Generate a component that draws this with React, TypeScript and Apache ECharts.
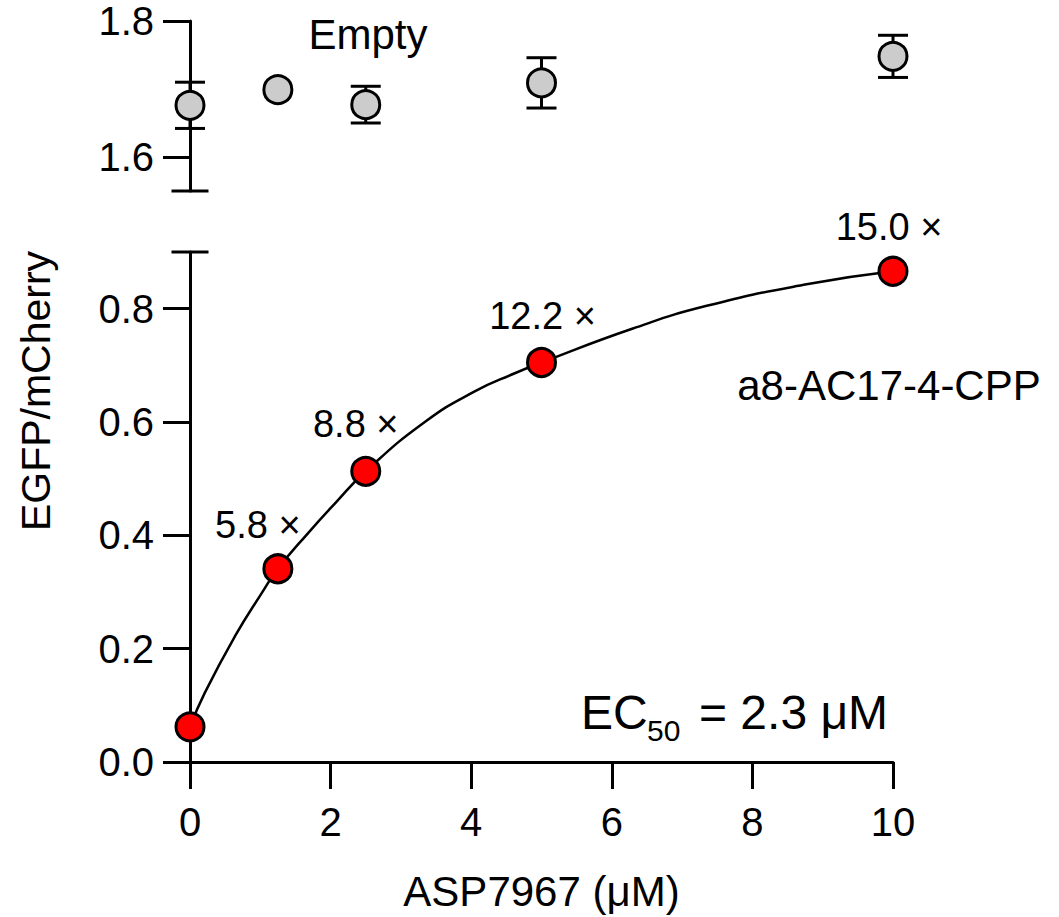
import React, { useEffect, useRef } from "react";
import * as echarts from "echarts";

// ---- data ----
const concentrations = [0, 1.25, 2.5, 5, 10];
const emptyMeans = [1.676, 1.699, 1.677, 1.709, 1.748];
const emptyErrors = [0.034, 0, 0.027, 0.037, 0.031];
const a8Means = [0.062, 0.341, 0.513, 0.705, 0.866];
const foldLabels = ["", "5.8 ×", "8.8 ×", "12.2 ×", "15.0 ×"];
const fitX = [0, 0.21, 0.64, 1.02, 1.25, 1.68, 2.06, 2.5, 3.34, 4.05, 4.62, 5, 6.3, 7.35, 8.77, 10];
const fitY = [0.062, 0.122, 0.222, 0.298, 0.341, 0.404, 0.456, 0.513, 0.6, 0.654, 0.686, 0.705, 0.765, 0.805, 0.843, 0.866];
const topTicks = [1.6, 1.8];
const bottomTicks = [0, 0.2, 0.4, 0.6, 0.8];
const topRange = [1.55, 1.8];
const bottomRange = [0, 0.9];
const xRange = [0, 10];

// ---- styles ----
const FONT = "'Liberation Sans', Arial, Helvetica, sans-serif";
const labelOffsets = [
  [0, 0],
  [-20, 0],
  [-10, -4],
  [1, -3],
  [-4, -1],
];

export default function App() {
  const ref = useRef<HTMLDivElement>(null);

  useEffect(() => {
    document.body.style.margin = "0";
    const chart = echarts.init(ref.current!, null, { renderer: "svg" });

    const lineStyle = { color: "#000", width: 3 };
    const tickLabel = {
      fontSize: 40,
      color: "#000",
      fontFamily: FONT,
    };

    const capSeries = (gridIdx: number, y: number) => ({
      type: "custom",
      xAxisIndex: gridIdx,
      yAxisIndex: gridIdx,
      silent: true,
      z: 1,
      data: [[xRange[0], y]],
      renderItem: (params: any, api: any) => {
        const p = api.coord([api.value(0), api.value(1)]);
        return {
          type: "line",
          shape: { x1: p[0] - 18.5, y1: p[1], x2: p[0] + 18.5, y2: p[1] },
          style: { stroke: "#000", lineWidth: 3 },
        };
      },
    });

    const option: any = {
      animation: false,
      textStyle: { fontFamily: FONT },
      grid: [
        { left: 190, width: 703, top: 21, height: 170 },
        { left: 190, width: 703, top: 252, height: 511 },
      ],
      xAxis: [
        {
          gridIndex: 0,
          type: "value",
          min: xRange[0],
          max: xRange[1],
          show: false,
        },
        {
          gridIndex: 1,
          type: "value",
          min: xRange[0],
          max: xRange[1],
          interval: 2,
          axisLine: { show: true, lineStyle },
          axisTick: { show: true, length: 27, lineStyle },
          axisLabel: { ...tickLabel, margin: 40 },
          splitLine: { show: false },
          name: "ASP7967 (μM)",
          nameLocation: "middle",
          nameGap: 108,
          nameTextStyle: { fontSize: 42, color: "#000", fontFamily: FONT },
        },
      ],
      yAxis: [
        {
          gridIndex: 0,
          type: "value",
          min: topRange[0],
          max: topRange[1],
          axisLine: { show: true, lineStyle },
          axisTick: { show: true, length: 27, lineStyle, customValues: topTicks },
          axisLabel: {
            ...tickLabel,
            margin: 36,
            customValues: topTicks,
            formatter: (v: number) => v.toFixed(1),
          },
          splitLine: { show: false },
        },
        {
          gridIndex: 1,
          type: "value",
          min: bottomRange[0],
          max: bottomRange[1],
          axisLine: { show: true, lineStyle },
          axisTick: { show: true, length: 27, lineStyle, customValues: bottomTicks },
          axisLabel: {
            ...tickLabel,
            margin: 36,
            customValues: bottomTicks,
            formatter: (v: number) => v.toFixed(1),
          },
          splitLine: { show: false },
        },
      ],
      series: [
        capSeries(0, topRange[0]),
        capSeries(1, bottomRange[1]),
        {
          type: "custom",
          xAxisIndex: 0,
          yAxisIndex: 0,
          z: 2,
          silent: true,
          data: concentrations.map((x, i) => [x, emptyMeans[i], emptyErrors[i]]),
          renderItem: (params: any, api: any) => {
            const x = api.value(0);
            const m = api.value(1);
            const e = api.value(2);
            if (!e) return null;
            const t = api.coord([x, m + e]);
            const b = api.coord([x, m - e]);
            const hw = 15;
            const st = { stroke: "#000", lineWidth: 3 };
            return {
              type: "group",
              children: [
                { type: "line", shape: { x1: t[0], y1: t[1], x2: b[0], y2: b[1] }, style: st },
                { type: "line", shape: { x1: t[0] - hw, y1: t[1], x2: t[0] + hw, y2: t[1] }, style: st },
                { type: "line", shape: { x1: b[0] - hw, y1: b[1], x2: b[0] + hw, y2: b[1] }, style: st },
              ],
            };
          },
        },
        {
          type: "scatter",
          xAxisIndex: 0,
          yAxisIndex: 0,
          z: 5,
          symbol: "circle",
          symbolSize: 28,
          itemStyle: { color: "#cccccc", borderColor: "#000", borderWidth: 3, opacity: 1 },
          data: concentrations.map((x, i) => [x, emptyMeans[i]]),
        },
        {
          type: "line",
          xAxisIndex: 1,
          yAxisIndex: 1,
          z: 3,
          smooth: 0.5,
          symbol: "none",
          lineStyle: { color: "#000", width: 2.5 },
          data: fitX.map((x, i) => [x, fitY[i]]),
        },
        {
          type: "scatter",
          xAxisIndex: 1,
          yAxisIndex: 1,
          z: 5,
          symbol: "circle",
          symbolSize: 28,
          itemStyle: { color: "#ff0000", borderColor: "#000", borderWidth: 3, opacity: 1 },
          data: concentrations.map((x, i) => ({
            value: [x, a8Means[i]],
            label: {
              show: foldLabels[i] !== "",
              formatter: foldLabels[i],
              position: "top",
              distance: 9,
              offset: labelOffsets[i],
              fontSize: 38,
              color: "#000",
              fontFamily: FONT,
            },
          })),
        },
      ],
      graphic: [
        {
          type: "text",
          x: 368,
          y: 34,
          style: {
            text: "Empty",
            fontSize: 42,
            fontFamily: FONT,
            fill: "#000",
            align: "center",
            verticalAlign: "middle",
          },
        },
        {
          type: "text",
          x: 889,
          y: 385,
          style: {
            text: "a8-AC17-4-CPP",
            fontSize: 42,
            fontFamily: FONT,
            fill: "#000",
            align: "center",
            verticalAlign: "middle",
          },
        },
        {
          type: "text",
          x: 581,
          y: 712,
          style: {
            text: "EC",
            fontSize: 48,
            fontFamily: FONT,
            fill: "#000",
            align: "left",
            verticalAlign: "middle",
          },
        },
        {
          type: "text",
          x: 647,
          y: 730,
          style: {
            text: "50",
            fontSize: 30,
            fontFamily: FONT,
            fill: "#000",
            align: "left",
            verticalAlign: "middle",
          },
        },
        {
          type: "text",
          x: 699,
          y: 712,
          style: {
            text: "= 2.3 μM",
            fontSize: 48,
            fontFamily: FONT,
            fill: "#000",
            align: "left",
            verticalAlign: "middle",
          },
        },
        {
          type: "text",
          x: 36,
          y: 391,
          rotation: Math.PI / 2,
          style: {
            text: "EGFP/mCherry",
            fontSize: 41,
            fontFamily: FONT,
            fill: "#000",
            align: "center",
            verticalAlign: "middle",
          },
        },
      ],
    };

    chart.setOption(option);
    return () => chart.dispose();
  }, []);

  return <div ref={ref} style={{ width: 1059, height: 917 }} />;
}
